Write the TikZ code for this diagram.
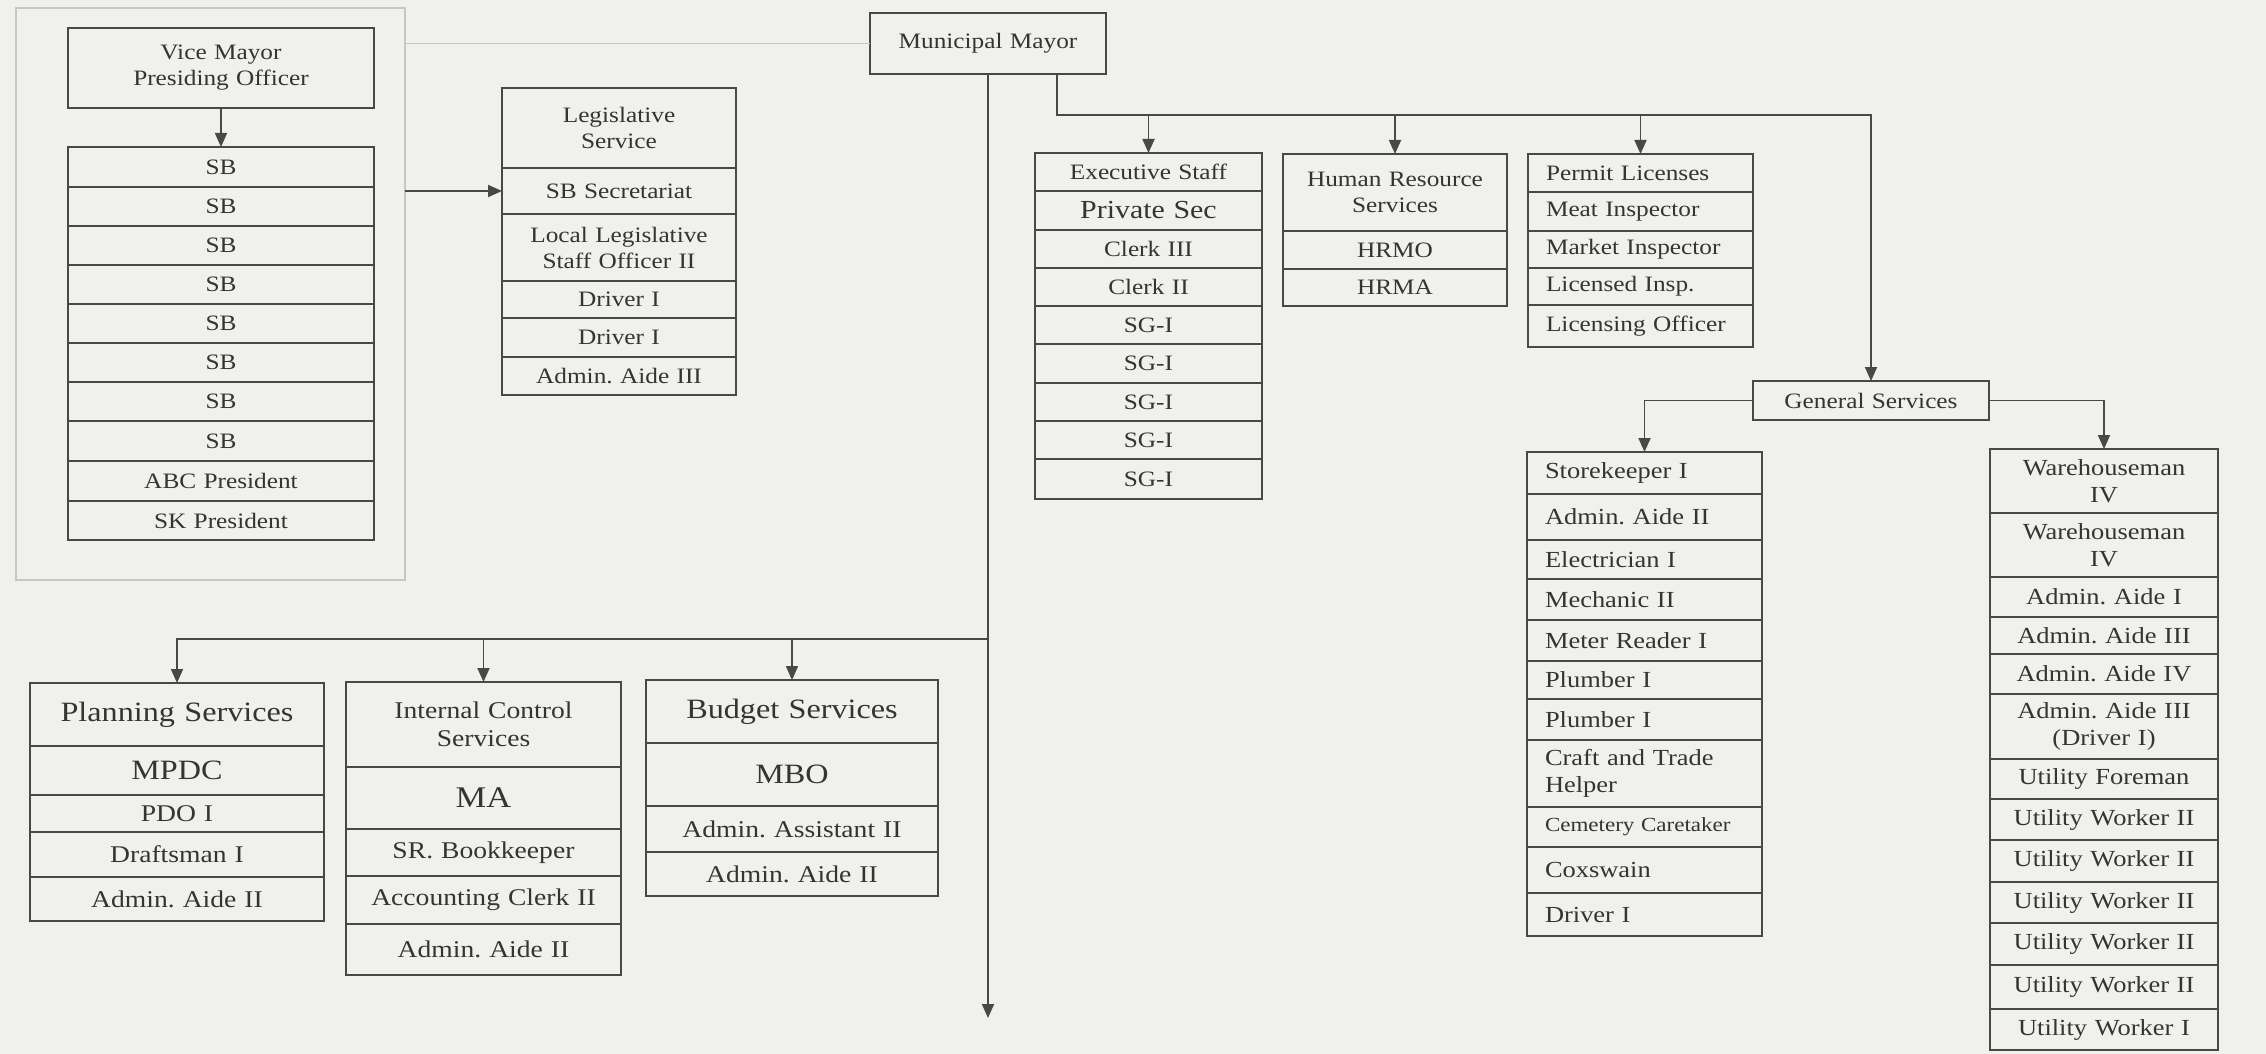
\documentclass[tikz,border=0pt]{standalone}
\usepackage{fontspec}
\setmainfont[FakeStretch=1.15]{Liberation Serif}
\usetikzlibrary{arrows.meta}
\frenchspacing
\definecolor{bgc}{RGB}{240,240,236}
\definecolor{linec}{RGB}{72,72,72}
\definecolor{textc}{RGB}{52,52,52}
\definecolor{framec}{RGB}{198,198,194}
\newcommand\fsn{\fontsize{11}{13}\selectfont}
\newcommand\fsr{\fontsize{11.5}{13.5}\selectfont}
\newcommand\fsbl{\fontsize{12}{14}\selectfont}
\newcommand\fsbig{\fontsize{14}{16}\selectfont}
\newcommand\setcol[2]{\def\colA{#1}\def\colB{#2}}
\newcommand\cellbox[5][]{%
  \pgfmathsetmacro\cx{(\colA+\colB)/2}%
  \pgfmathsetmacro\cy{(#3+#4)/2}%
  \pgfmathsetmacro\ww{(\colB-\colA)*0.5}%
  \pgfmathsetmacro\hh{(#4-#3)*0.5}%
  \pgfmathsetmacro\tw{\ww-18}%
  \node[orgcell,minimum width=\ww pt,minimum height=\hh pt,text width=\tw pt,#1] (#2) at (\cx,\cy) {#5};}
\tikzset{
  orgcell/.style={draw=linec,line width=0.9pt,inner xsep=9pt,inner ysep=0pt,outer sep=0pt,align=center,text=textc,font=\fsn},
  leftcell/.style={align=left},
  rc/.style={font=\fsr},
  bl/.style={font=\fsbl},
  big/.style={font=\fsbig},
  link/.style={draw=linec,line width=0.9pt},
  arr/.style={draw=linec,line width=0.9pt,-{Triangle[length=7pt,width=6pt]}},
}
\begin{document}
\begin{tikzpicture}[x=0.5pt,y=-0.5pt]
\useasboundingbox (0,0) rectangle (2266,1054);
\fill[bgc] (0,0) rectangle (2266,1054);

% Vice mayor frame
\node[draw=framec,line width=0.7pt,minimum width=194.5pt,minimum height=286pt,inner sep=0pt,outer sep=0pt] (vmframe) at (210.5,294) {};

\setcol{68}{374}
\cellbox{vm}{28}{108}{Vice Mayor\\Presiding Officer}
\cellbox{sb1}{147}{187}{SB}
\cellbox{sb2}{187}{226}{SB}
\cellbox{sb3}{226}{265}{SB}
\cellbox{sb4}{265}{304}{SB}
\cellbox{sb5}{304}{343}{SB}
\cellbox{sb6}{343}{382}{SB}
\cellbox{sb7}{382}{421}{SB}
\cellbox{sb8}{421}{461}{SB}
\cellbox{sb9}{461}{501}{ABC President}
\cellbox{sb10}{501}{540}{SK President}

\setcol{502}{736}
\cellbox{ls1}{88}{168}{Legislative\\Service}
\cellbox{ls2}{168}{214}{SB Secretariat}
\cellbox{ls3}{214}{281}{Local Legislative\\Staff Officer II}
\cellbox{ls4}{281}{318}{Driver I}
\cellbox{ls5}{318}{357}{Driver I}
\cellbox{ls6}{357}{395}{Admin. Aide III}

% Mayor
\node[orgcell,minimum width=113pt,minimum height=30.5pt,text width=100pt] (mayor) at (988,43.5) {Municipal Mayor};

\setcol{1035}{1262}
\cellbox{ex1}{153}{191}{Executive Staff}
\cellbox[font=\fontsize{13}{15}\selectfont]{ex2}{191}{230}{Private Sec}
\cellbox{ex3}{230}{268}{Clerk III}
\cellbox{ex4}{268}{306}{Clerk II}
\cellbox{ex5}{306}{344}{SG-I}
\cellbox{ex6}{344}{383}{SG-I}
\cellbox{ex7}{383}{421}{SG-I}
\cellbox{ex8}{421}{459}{SG-I}
\cellbox{ex9}{459}{499}{SG-I}

\setcol{1283}{1507}
\cellbox{hr1}{154}{231}{Human Resource\\Services}
\cellbox{hr2}{231}{269}{HRMO}
\cellbox{hr3}{269}{306}{HRMA}

\setcol{1528}{1753}
\cellbox[leftcell]{pe1}{154}{192}{Permit Licenses}
\cellbox[leftcell]{pe2}{192}{231}{Meat Inspector}
\cellbox[leftcell]{pe3}{231}{268}{Market Inspector}
\cellbox[leftcell]{pe4}{268}{305}{Licensed Insp.}
\cellbox[leftcell]{pe5}{305}{347}{Licensing Officer}

\node[orgcell,minimum width=114pt,minimum height=19.5pt,text width=100pt] (gs) at (1871,400.5) {General Services};

\setcol{1527}{1762}
\cellbox[leftcell,rc]{sk1}{452}{494}{Storekeeper I}
\cellbox[leftcell,rc]{sk2}{494}{540}{Admin. Aide II}
\cellbox[leftcell,rc]{sk3}{540}{579}{Electrician I}
\cellbox[leftcell,rc]{sk4}{579}{620}{Mechanic II}
\cellbox[leftcell,rc]{sk5}{620}{661}{Meter Reader I}
\cellbox[leftcell,rc]{sk6}{661}{699}{Plumber I}
\cellbox[leftcell,rc]{sk7}{699}{740}{Plumber I}
\cellbox[leftcell,rc]{sk8}{740}{807}{Craft and Trade\\Helper}
\cellbox[leftcell,font=\fontsize{10}{12}\selectfont]{sk9}{807}{847}{Cemetery Caretaker}
\cellbox[leftcell,rc]{sk10}{847}{893}{Coxswain}
\cellbox[leftcell,rc]{sk11}{893}{936}{Driver I}

\setcol{1990}{2218}
\cellbox[rc]{wh1}{449}{513}{Warehouseman\\IV}
\cellbox[rc]{wh2}{513}{577}{Warehouseman\\IV}
\cellbox[rc]{wh3}{577}{617}{Admin. Aide I}
\cellbox[rc]{wh4}{617}{654}{Admin. Aide III}
\cellbox[rc]{wh5}{654}{694}{Admin. Aide IV}
\cellbox[rc]{wh6}{694}{759}{Admin. Aide III\\(Driver I)}
\cellbox[rc]{wh7}{759}{799}{Utility Foreman}
\cellbox[rc]{wh8}{799}{840}{Utility Worker II}
\cellbox[rc]{wh9}{840}{882}{Utility Worker II}
\cellbox[rc]{wh10}{882}{923}{Utility Worker II}
\cellbox[rc]{wh11}{923}{965}{Utility Worker II}
\cellbox[rc]{wh12}{965}{1009}{Utility Worker II}
\cellbox[rc]{wh13}{1009}{1050}{Utility Worker I}

\setcol{30}{324}
\cellbox[big]{pl1}{683}{746}{Planning Services}
\cellbox[big]{pl2}{746}{795}{MPDC}
\cellbox[bl]{pl3}{795}{832}{PDO I}
\cellbox[bl]{pl4}{832}{877}{Draftsman I}
\cellbox[bl]{pl5}{877}{921}{Admin. Aide II}

\setcol{346}{621}
\cellbox[bl]{ic1}{682}{767}{Internal Control\\Services}
\cellbox[font=\fontsize{15}{17}\selectfont]{ic2}{767}{829}{MA}
\cellbox[bl]{ic3}{829}{876}{SR. Bookkeeper}
\cellbox[bl]{ic4}{876}{924}{Accounting Clerk II}
\cellbox[bl]{ic5}{924}{975}{Admin. Aide II}

\setcol{646}{938}
\cellbox[big]{bu1}{680}{743}{Budget Services}
\cellbox[big]{bu2}{743}{806}{MBO}
\cellbox[bl]{bu3}{806}{852}{Admin. Assistant II}
\cellbox[bl]{bu4}{852}{896}{Admin. Aide II}

% connectors
\draw[draw=framec,line width=0.7pt] (vmframe.east |- mayor.west) -- (mayor.west);
\draw[arr] (vm.south) -- (vm.south |- sb1.north);
\draw[arr] (vmframe.east |- ls2.west) -- (ls2.west);

\coordinate (mend) at (988,1018);
\draw[arr] (mayor.south) -- (mend);
\coordinate (lhub) at (988,639);
\draw[arr] (lhub) -| (pl1.north);
\draw[arr] (ic1.north |- lhub) -- (ic1.north);
\draw[arr] (bu1.north |- lhub) -- (bu1.north);

\coordinate (rhub) at (1057,115);
\draw[arr] (rhub |- mayor.south) |- (gs.north |- rhub) -- (gs.north);
\draw[arr] (ex1.north |- rhub) -- (ex1.north);
\draw[arr] (hr1.north |- rhub) -- (hr1.north);
\draw[arr] (pe1.north |- rhub) -- (pe1.north);

\draw[arr] (gs.west) -| (sk1.north);
\draw[arr] (gs.east) -| (wh1.north);
\end{tikzpicture}
\end{document}
